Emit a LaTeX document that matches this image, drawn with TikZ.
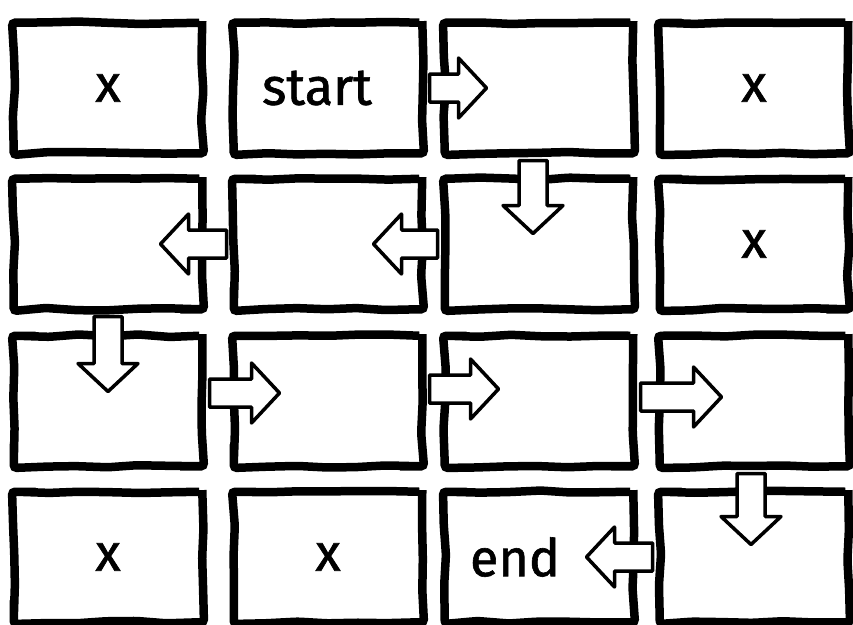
\documentclass[tikz,border=0pt]{standalone}
\usepackage{fontspec}
\setmainfont{Fira Sans}
\newfontfamily\handfont{Fira Sans}[FakeBold=1.2]
\usetikzlibrary{calc,decorations.pathmorphing}

\begin{document}
\pgfmathsetseed{12}
\begin{tikzpicture}[x=1pt, y=-1pt,
  cell/.style={draw, line width=8.5pt, fill=white, inner sep=0pt,
    minimum width=188.5pt, minimum height=130.5pt, rounded corners=3pt,
    decorate, decoration={random steps, segment length=30pt, amplitude=1.3pt},
    font=\handfont\fontsize{52}{52}\selectfont},
  celltext/.style={font=\handfont\fontsize{52}{52}\selectfont, inner sep=0pt},
  arrowbox/.style={draw, line width=3.5pt, fill=white, line join=round},
  fatarrow/.style={to path={
    let \p1=(\tikztostart), \p2=(\tikztotarget),
        \n1={atan2(\y2-\y1,\x2-\x1)}, \n2={veclen(\x2-\x1,\y2-\y1)+#1} in
    {[shift={(\p1)}, rotate=\n1]
      (3,-14) -- (\n2-28,-14) -- (\n2-28,-30) -- (\n2,0)
      -- (\n2-28,30) -- (\n2-28,14) -- (3,14) -- cycle}}}]
\useasboundingbox (0,0) rectangle (853,624);

% the grid
\node[cell] (c11) at (108,88) {x};
\node[cell, label={[celltext, xshift=-11pt]center:start}] (c12) at (328,88) {};
\node[cell] (c13) at (539,88) {};
\node[cell] (c14) at (754,88) {x};
\node[cell] (c21) at (108,244) {};
\node[cell] (c22) at (328,244) {};
\node[cell] (c23) at (539,244) {};
\node[cell] (c24) at (754,244) {x};
\node[cell] (c31) at (108,401) {};
\node[cell] (c32) at (328,401) {};
\node[cell] (c33) at (539,401) {};
\node[cell] (c34) at (754,401) {};
\node[cell] (c41) at (108,557) {x};
\node[cell] (c42) at (328,557) {x};
\node[cell, label={[celltext, xshift=-24pt]center:end}] (c43) at (539,557) {};
\node[cell] (c44) at (754,557) {};

% the path
\draw[arrowbox] (c12.east) to[fatarrow=46] (c13.west);
\draw[arrowbox] ([xshift=-6pt]c13.south) to[fatarrow=59] ([xshift=-6pt]c23.north);
\draw[arrowbox] (c23.west) to[fatarrow=53] (c22.east);
\draw[arrowbox] (c22.west) to[fatarrow=46] (c21.east);
\draw[arrowbox] (c21.south) to[fatarrow=60] (c31.north);
\draw[arrowbox] ([yshift=8pt]c31.east) to[fatarrow=50] ([yshift=8pt]c32.west);
\draw[arrowbox] ([yshift=12pt]c32.east) to[fatarrow=58] ([yshift=12pt]c33.west);
\draw[arrowbox] ([yshift=4pt]c33.east) to[fatarrow=66] ([yshift=4pt]c34.west);
\draw[arrowbox] ([xshift=-3pt]c34.south) to[fatarrow=57] ([xshift=-3pt]c44.north);
\draw[arrowbox] (c44.west) to[fatarrow=51] (c43.east);
\end{tikzpicture}
\end{document}
